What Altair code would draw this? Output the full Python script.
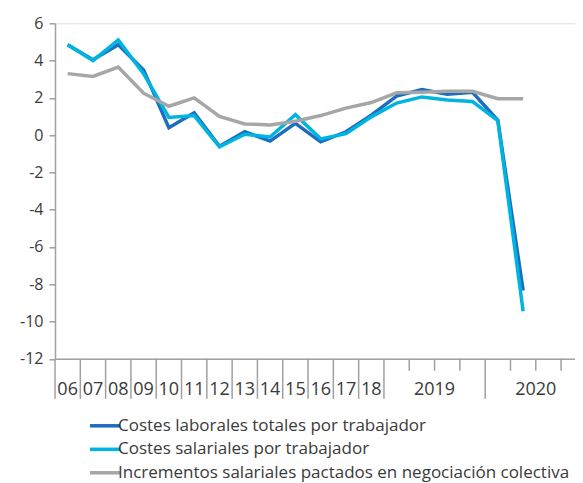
import altair as alt
import pandas as pd

periods = ["06", "07", "08", "09", "10", "11", "12", "13", "14", "15", "16", "17", "18",
           "2019T1", "2019T2", "2019T3", "2019T4", "2020T1", "2020T2"]
costes_laborales = [4.85, 4.05, 4.85, 3.5, 0.4, 1.2, -0.6, 0.18, -0.32, 0.63, -0.36, 0.18, 1.07,
                    2.1, 2.45, 2.2, 2.3, 0.8, -8.33]
costes_salariales = [4.85, 4.0, 5.1, 3.3, 0.95, 1.05, -0.63, 0.05, -0.1, 1.1, -0.2, 0.08, 0.98,
                     1.72, 2.05, 1.88, 1.8, 0.78, -9.45]
incrementos = [3.3, 3.15, 3.65, 2.25, 1.55, 2.0, 1.0, 0.6, 0.55, 0.75, 1.05, 1.45, 1.75,
               2.27, 2.3, 2.35, 2.35, 1.95, 1.95]

series_names = ["Costes laborales totales por trabajador",
                "Costes salariales por trabajador",
                "Incrementos salariales pactados en negociación colectiva"]
series_colors = ["#1a6dbf", "#00b4e2", "#a6a6a6"]

# axis structure: 13 annual slots, then 4 quarters of 2019 and 4 of 2020
year_labels = ["06", "07", "08", "09", "10", "11", "12", "13", "14", "15", "16", "17", "18", "2019", "2020"]
year_label_pos = [0.5, 1.5, 2.5, 3.5, 4.5, 5.5, 6.5, 7.5, 8.5, 9.5, 10.5, 11.5, 12.5, 15, 19]
long_ticks = [0, 1, 2, 3, 4, 5, 6, 7, 8, 9, 10, 11, 12, 13, 17]
short_ticks = [14, 15, 16, 18, 19, 20]

rows = []
for name, vals in zip(series_names, [costes_laborales, costes_salariales, incrementos]):
    for i, (p, v) in enumerate(zip(periods, vals)):
        rows.append({"serie": name, "periodo": p, "pos": i + 0.5, "valor": v})
df = pd.DataFrame(rows)

W, H = 520, 335.5
FONT = "Open Sans"
TXT = "#3a3a3a"
AX = "#a0a0a0"

xscale = alt.Scale(domain=[0, 20.55], nice=False, zero=False)
yscale = alt.Scale(domain=[-12, 6], nice=False)

lines = alt.Chart(df).mark_line(strokeWidth=3.5, clip=False).encode(
    x=alt.X("pos:Q", scale=xscale,
            axis=alt.Axis(title=None, labels=False, ticks=False, grid=False,
                          domainColor=AX, domainWidth=1.5)),
    y=alt.Y("valor:Q", scale=yscale,
            axis=alt.Axis(title=None, values=list(range(-12, 7, 2)), grid=False,
                          domainColor=AX, domainWidth=1.5, tickColor=AX, tickWidth=1.5,
                          tickSize=6, labelFontSize=16, labelFont=FONT, labelColor=TXT,
                          labelPadding=6, labelExpr="toString(datum.value)")),
    color=alt.Color("serie:N", sort=series_names,
                    scale=alt.Scale(domain=series_names, range=series_colors),
                    legend=alt.Legend(title=None, orient="none", legendX=40.5, legendY=393,
                                      direction="vertical", symbolType="M-2,0H2",
                                      symbolSize=225, symbolStrokeWidth=3.5,
                                      labelFontSize=17, labelFont=FONT, labelColor=TXT,
                                      labelOffset=3.5, rowPadding=5.5, padding=0,
                                      labelLimit=600)),
    order=alt.Order("pos:Q"),
    detail="serie:N",
)

long_df = pd.DataFrame({"t": long_ticks})
short_df = pd.DataFrame({"t": short_ticks})
lab_df = pd.DataFrame({"t": year_label_pos, "lab": year_labels})

long_rules = alt.Chart(long_df).mark_rule(color=AX, strokeWidth=1.5, clip=False).encode(
    x=alt.X("t:Q", scale=xscale), y=alt.value(H), y2=alt.value(H + 40))
short_rules = alt.Chart(short_df).mark_rule(color=AX, strokeWidth=1.5, clip=False).encode(
    x=alt.X("t:Q", scale=xscale), y=alt.value(H), y2=alt.value(H + 12))
labels = alt.Chart(lab_df).mark_text(font=FONT, fontSize=18, color=TXT, baseline="middle",
                                     align="center", clip=False).encode(
    x=alt.X("t:Q", scale=xscale), y=alt.value(H + 31), text="lab:N")

chart = alt.layer(long_rules, short_rules, labels, lines).properties(
    width=W, height=H,
    autosize=alt.AutoSizeParams(type="none"),
    padding={"left": 47, "top": 15.3, "right": 0, "bottom": 124.2},
).configure_view(stroke=None).configure(background="white")

chart.save("out.html", embed_options={"renderer": "svg", "actions": False})
